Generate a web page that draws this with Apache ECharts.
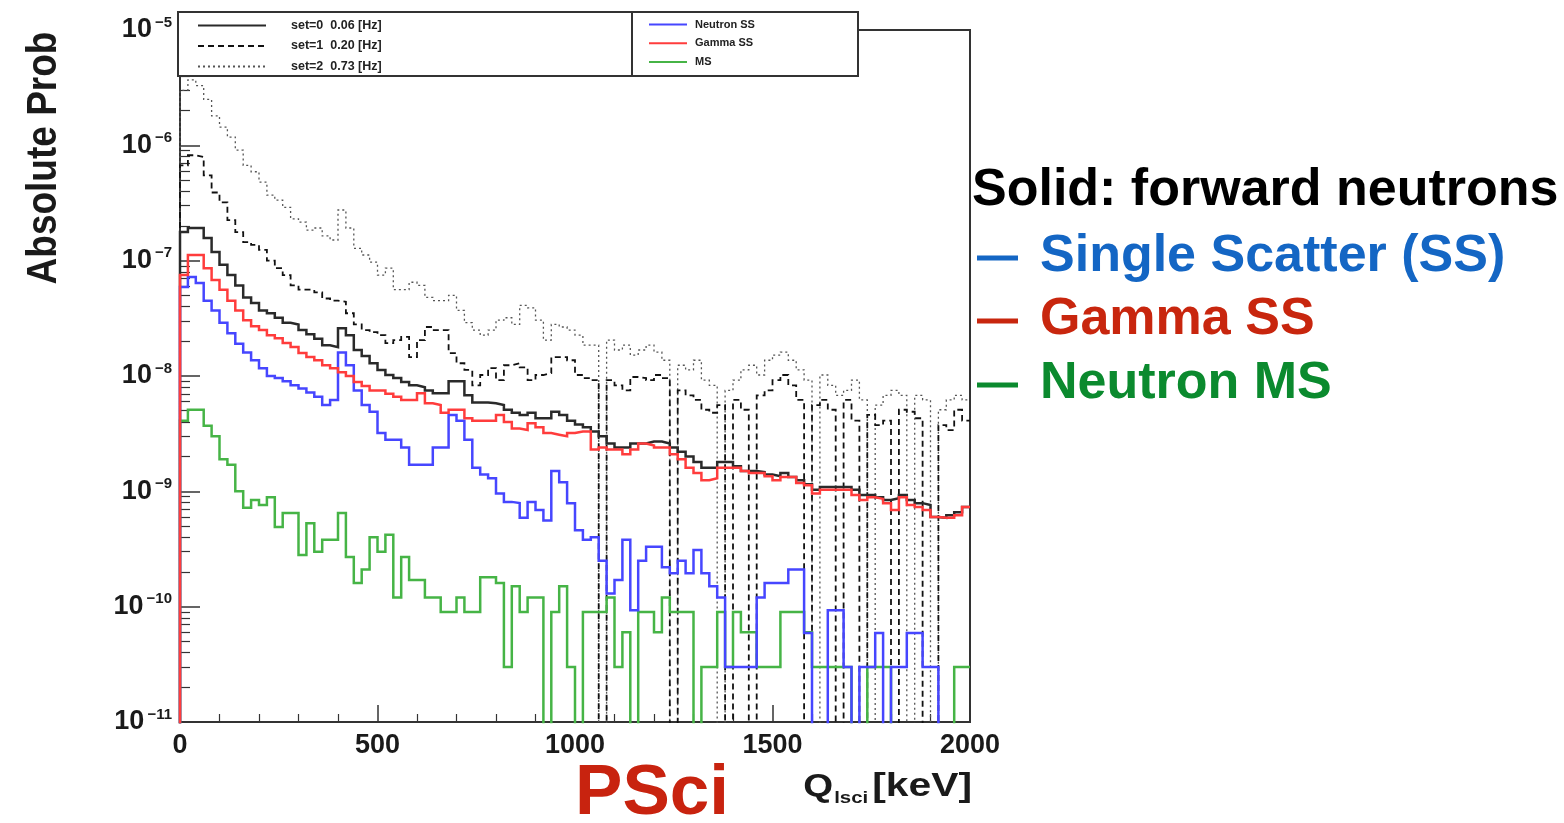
<!DOCTYPE html>
<html><head><meta charset="utf-8">
<script src="https://cdn.jsdelivr.net/npm/echarts@6/dist/echarts.min.js"></script>
<style>html,body{margin:0;padding:0;background:#fff}#c{width:1564px;height:823px}</style>
</head><body><div id="c"></div>
<script>
// ---- data (20 keV bins, 0..2000 keV) ----
const BIN_WIDTH = 20;
const X_MIN = 0, X_MAX = 2000;
const X_TICK_STEP = 500;
const Y_MIN = 1e-11, Y_MAX = 1e-5;
const Y_DECADES = [-11, -10, -9, -8, -7, -6];
const MINOR_MULTIPLIERS = [2, 3, 4, 5, 6, 7, 8, 9];
const SET_LABELS = ['set=0  0.06 [Hz]', 'set=1  0.20 [Hz]', 'set=2  0.73 [Hz]'];
const TYPE_LABELS = ['Neutron SS', 'Gamma SS', 'MS'];

const set0Total = [1.77e-7,1.92e-7,1.92e-7,1.57e-7,1.19e-7,9.2e-8,7.5e-8,6.1e-8,4.8e-8,4.3e-8,
 3.7e-8,3.5e-8,3.2e-8,2.9e-8,2.8e-8,2.5e-8,2.3e-8,2.1e-8,1.85e-8,1.78e-8,
 2.6e-8,2.26e-8,1.68e-8,1.49e-8,1.29e-8,1.13e-8,1.02e-8,9.6e-9,8.85e-9,8.3e-9,
 8.0e-9,7.5e-9,7.1e-9,7.1e-9,9.0e-9,9.0e-9,6.8e-9,5.9e-9,5.9e-9,5.8e-9,
 5.6e-9,5.1e-9,4.8e-9,4.6e-9,4.8e-9,4.3e-9,4.3e-9,4.9e-9,4.6e-9,4.1e-9,
 3.8e-9,3.6e-9,3.3e-9,3.0e-9,2.6e-9,2.4e-9,2.4e-9,2.6e-9,2.6e-9,2.7e-9,
 2.7e-9,2.6e-9,2.4e-9,2.2e-9,2.0e-9,1.8e-9,1.6e-9,1.6e-9,1.8e-9,1.8e-9,
 1.65e-9,1.5e-9,1.5e-9,1.47e-9,1.4e-9,1.35e-9,1.44e-9,1.33e-9,1.25e-9,1.15e-9,
 1.03e-9,1.09e-9,1.09e-9,1.09e-9,1.09e-9,1.03e-9,9.3e-10,9.3e-10,8.9e-10,8.4e-10,
 8.7e-10,9.3e-10,8.4e-10,7.9e-10,7.6e-10,6.0e-10,5.9e-10,6.2e-10,6.6e-10,7.3e-10];

const set1Total = [6.7e-7,8.2e-7,7.9e-7,5.5e-7,3.9e-7,3.2e-7,2.25e-7,1.77e-7,1.45e-7,1.37e-7,
 1.24e-7,1.0e-7,8.6e-8,7.5e-8,6.1e-8,5.6e-8,5.6e-8,5.3e-8,4.7e-8,4.5e-8,
 4.4e-8,3.5e-8,2.8e-8,2.5e-8,2.4e-8,2.26e-8,1.93e-8,2.05e-8,2.18e-8,1.46e-8,
 2.05e-8,2.66e-8,2.5e-8,2.5e-8,1.58e-8,1.29e-8,1.13e-8,8.3e-9,1.02e-8,1.17e-8,
 9.2e-9,1.24e-8,1.29e-8,1.19e-8,9.2e-9,1.02e-8,1.06e-8,1.46e-8,1.46e-8,1.37e-8,
 1.02e-8,9.6e-9,9.2e-9,0,9.2e-9,8.3e-9,7.5e-9,9.8e-9,9.6e-9,9.2e-9,
 1.02e-8,9.6e-9,0,7.5e-9,6.8e-9,6.2e-9,5.1e-9,4.8e-9,5.6e-9,0,
 6.2e-9,5.1e-9,0,6.8e-9,7.5e-9,9.2e-9,1.02e-8,8.3e-9,6.2e-9,0,
 5.6e-9,6.2e-9,5.1e-9,0,6.2e-9,4.1e-9,0,4.6e-9,3.75e-9,4.1e-9,
 0,5.1e-9,4.9e-9,4.3e-9,0,0,3.75e-9,3.4e-9,5.1e-9,4.1e-9];

const set2Total = [3.0e-6,3.7e-6,3.3e-6,2.5e-6,1.8e-6,1.44e-6,1.18e-6,9.1e-7,6.7e-7,5.9e-7,
 4.8e-7,3.7e-7,3.35e-7,2.9e-7,2.3e-7,2.16e-7,1.84e-7,1.92e-7,1.64e-7,1.51e-7,
 2.75e-7,1.92e-7,1.28e-7,1.12e-7,9.7e-8,7.5e-8,8.6e-8,5.6e-8,5.6e-8,6.5e-8,
 6.1e-8,4.8e-8,4.5e-8,4.5e-8,5.0e-8,3.7e-8,2.9e-8,2.5e-8,2.26e-8,2.5e-8,
 3.05e-8,3.2e-8,2.8e-8,4.1e-8,3.9e-8,3.05e-8,2.05e-8,2.8e-8,2.66e-8,2.5e-8,
 2.26e-8,1.85e-8,1.85e-8,0,2.05e-8,1.68e-8,1.85e-8,1.52e-8,1.68e-8,1.85e-8,
 1.61e-8,1.37e-8,0,1.24e-8,1.13e-8,1.37e-8,9.2e-9,8.3e-9,0,7.5e-9,
 9.2e-9,1.13e-8,1.24e-8,1.02e-8,1.37e-8,1.52e-8,1.61e-8,1.37e-8,1.13e-8,9.2e-9,
 0,1.02e-8,8.3e-9,6.8e-9,7.5e-9,9.2e-9,6.2e-9,0,5.6e-9,6.8e-9,
 7.5e-9,6.8e-9,0,6.8e-9,6.2e-9,0,5.1e-9,6.2e-9,6.8e-9,6.2e-9];

const neutronSS = [5.9e-8,7.2e-8,6.4e-8,4.5e-8,3.7e-8,2.9e-8,2.35e-8,1.9e-8,1.6e-8,1.37e-8,
 1.17e-8,1.0e-8,9.6e-9,9.0e-9,8.3e-9,7.8e-9,7.2e-9,6.6e-9,5.6e-9,6.2e-9,
 1.6e-8,1.24e-8,7.5e-9,5.6e-9,4.9e-9,3.2e-9,2.8e-9,2.8e-9,2.4e-9,1.7e-9,
 1.7e-9,1.7e-9,2.4e-9,2.4e-9,4.6e-9,4.1e-9,2.8e-9,1.6e-9,1.4e-9,1.3e-9,
 9.6e-10,8.1e-10,7.9e-10,5.9e-10,8.1e-10,6.9e-10,5.6e-10,1.5e-9,1.2e-9,7.9e-10,
 4.6e-10,3.8e-10,4.0e-10,2.5e-10,1.3e-10,1.7e-10,3.8e-10,9.3e-11,2.5e-10,3.3e-10,
 3.3e-10,2.2e-10,1.95e-10,2.5e-10,1.95e-10,3.1e-10,1.95e-10,1.5e-10,1.2e-10,3.0e-11,
 3.0e-11,3.0e-11,3.0e-11,1.2e-10,1.6e-10,1.6e-10,1.6e-10,2.1e-10,2.1e-10,5.9e-11,
 0,0,9.3e-11,9.3e-11,3.0e-11,0,3.0e-11,3.0e-11,5.9e-11,0,
 3.0e-11,3.0e-11,5.9e-11,5.9e-11,3.0e-11,3.0e-11,0,0,0,0];

const gammaSS = [7.5e-8,1.12e-7,1.12e-7,8.6e-8,6.8e-8,5.6e-8,4.5e-8,3.7e-8,3.05e-8,2.7e-8,
 2.5e-8,2.26e-8,2.13e-8,1.93e-8,1.78e-8,1.58e-8,1.46e-8,1.37e-8,1.24e-8,1.17e-8,
 1.08e-8,1.0e-8,8.85e-9,8.2e-9,7.5e-9,7.5e-9,7.0e-9,6.6e-9,6.2e-9,6.2e-9,
 7.1e-9,5.8e-9,5.6e-9,4.8e-9,5.1e-9,5.1e-9,4.3e-9,4.1e-9,4.1e-9,4.1e-9,
 4.6e-9,4.0e-9,3.5e-9,3.4e-9,3.9e-9,3.6e-9,3.2e-9,3.1e-9,3.0e-9,3.2e-9,
 3.3e-9,3.3e-9,2.3e-9,2.4e-9,2.3e-9,2.3e-9,2.1e-9,2.3e-9,2.6e-9,2.5e-9,
 2.4e-9,2.4e-9,2.1e-9,1.9e-9,1.6e-9,1.44e-9,1.25e-9,1.3e-9,1.6e-9,1.6e-9,
 1.6e-9,1.5e-9,1.44e-9,1.44e-9,1.35e-9,1.25e-9,1.33e-9,1.33e-9,1.18e-9,1.13e-9,
 9.6e-10,1.03e-9,1.03e-9,1.03e-9,1.03e-9,9.3e-10,8.4e-10,8.9e-10,8.6e-10,7.9e-10,
 6.9e-10,8.9e-10,7.6e-10,7.3e-10,6.9e-10,6.0e-10,5.9e-10,5.9e-10,6.2e-10,7.3e-10];

const neutronMS = [4.1e-9,5.1e-9,5.1e-9,3.7e-9,3.0e-9,1.9e-9,1.7e-9,1.0e-9,7.2e-10,8.4e-10,
 7.6e-10,8.9e-10,4.9e-10,6.5e-10,6.5e-10,2.8e-10,5.3e-10,3.0e-10,3.8e-10,3.8e-10,
 6.5e-10,2.7e-10,1.6e-10,2.1e-10,4.0e-10,3.0e-10,4.2e-10,1.2e-10,2.7e-10,1.7e-10,
 1.7e-10,1.2e-10,1.2e-10,9e-11,9e-11,1.2e-10,9e-11,9e-11,1.8e-10,1.8e-10,
 1.6e-10,3e-11,1.5e-10,9e-11,1.2e-10,1.2e-10,0,9e-11,1.5e-10,3e-11,
 0,9e-11,9e-11,9e-11,1.2e-10,3e-11,6e-11,0,9e-11,9e-11,
 6e-11,1.2e-10,9e-11,9e-11,9e-11,0,3e-11,3e-11,9e-11,3e-11,
 9e-11,6e-11,6e-11,3e-11,3e-11,3e-11,9e-11,9e-11,9e-11,6e-11,
 3e-11,3e-11,3e-11,3e-11,3e-11,0,0,3e-11,3e-11,3e-11,
 0,0,0,0,0,0,0,0,3e-11,3e-11];

// ---- histogram outline builder (empty bins fall below the axis and are clipped) ----
const EMPTY = 1e-14;
function histPoints(vals) {
  const pts = [[X_MIN, EMPTY]];
  vals.forEach((v, i) => pts.push([X_MIN + i * BIN_WIDTH, v > 0 ? v : EMPTY]));
  const last = vals[vals.length - 1];
  pts.push([X_MIN + vals.length * BIN_WIDTH, last > 0 ? last : EMPTY]);
  return pts;
}
function hist(name, vals, color, width, type, z) {
  return {
    name, type: 'line', step: 'end', data: histPoints(vals), symbol: 'none', showSymbol: false,
    clip: true, z: z, silent: true, yAxisIndex: 0,
    lineStyle: { color, width, type, cap: 'butt', join: 'miter' }, itemStyle: { color }
  };
}
const minorYTicks = [];
Y_DECADES.forEach(e => MINOR_MULTIPLIERS.forEach(m => minorYTicks.push(m * Math.pow(10, e))));

const FONT = '"Liberation Sans", Arial, Helvetica, sans-serif';
const chart = echarts.init(document.getElementById('c'), null, { renderer: 'canvas' });

chart.setOption({
  animation: false,
  backgroundColor: '#fff',
  grid: { left: 180, right: 594, top: 30, bottom: 101, show: true, borderColor: '#333', borderWidth: 2, backgroundColor: 'transparent' },
  xAxis: {
    type: 'value', min: X_MIN, max: X_MAX, interval: X_TICK_STEP,
    axisLine: { show: false },
    axisTick: { show: true, inside: true, length: 17, lineStyle: { color: '#333', width: 1.5 } },
    minorTick: { show: true, splitNumber: 5, length: 8, lineStyle: { color: '#333', width: 1.2 } },
    splitLine: { show: false },
    axisLabel: { margin: 10, formatter: v => String(v), fontFamily: FONT, fontWeight: 'bold', fontSize: 27, color: '#1a1a1a' }
  },
  yAxis: [{
    type: 'log', logBase: 10, min: Y_MIN, max: Y_MAX, splitNumber: 6,
    axisLine: { show: false },
    axisTick: { show: true, inside: true, length: 20, lineStyle: { color: '#333', width: 1.5 } },
    minorTick: { show: false },
    splitLine: { show: false },
    axisLabel: {
      margin: 8,
      formatter: v => { const e = Math.round(Math.log10(v)); return '{b|10}{s|' + (e < 0 ? '\u2212' : '') + Math.abs(e) + '}'; },
      rich: {
        b: { fontFamily: FONT, fontWeight: 'bold', fontSize: 27, color: '#1a1a1a', lineHeight: 30 },
        s: { fontFamily: FONT, fontWeight: 'bold', fontSize: 15, color: '#1a1a1a', verticalAlign: 'top', padding: [0, 0, 0, 3] }
      }
    }
  }, {
    type: 'log', logBase: 10, min: Y_MIN, max: Y_MAX, position: 'left', offset: 0,
    axisLine: { show: false },
    axisTick: { show: true, inside: true, length: 10, customValues: minorYTicks, lineStyle: { color: '#333', width: 1.2 } },
    axisLabel: { show: false },
    splitLine: { show: false }
  }],
  legend: [
    {
      data: SET_LABELS, orient: 'vertical', left: 192, top: 14, itemWidth: 68, itemHeight: 14, itemGap: 7.5,
      selectedMode: false, z: 60, itemStyle: { opacity: 0 },
      textStyle: { fontFamily: FONT, fontWeight: 'bold', fontSize: 12.5, color: '#222', padding: [0, 0, 0, 20] }
    },
    {
      data: TYPE_LABELS, orient: 'vertical', left: 643, top: 14, itemWidth: 38, itemHeight: 14, itemGap: 7.5,
      selectedMode: false, z: 60, itemStyle: { opacity: 0 },
      textStyle: { fontFamily: FONT, fontWeight: 'bold', fontSize: 11, color: '#222', padding: [0, 0, 0, 3] }
    }
  ],
  series: [
    hist(SET_LABELS[2], set2Total, '#555', 1.3, [2, 3], 2),
    hist(SET_LABELS[1], set1Total, '#111', 1.8, [6, 4], 3),
    hist(SET_LABELS[0], set0Total, '#2a2a2a', 2.5, 'solid', 4),
    hist(TYPE_LABELS[2], neutronMS, '#46b446', 2.5, 'solid', 5),
    hist(TYPE_LABELS[0], neutronSS, '#4646ff', 2.5, 'solid', 6),
    hist(TYPE_LABELS[1], gammaSS, '#ff3c3c', 2.5, 'solid', 7)
  ],
  graphic: [
    { type: 'rect', z: 50, shape: { x: 178, y: 12, width: 454, height: 64 }, style: { fill: '#fff', stroke: '#333', lineWidth: 2 } },
    { type: 'rect', z: 50, shape: { x: 632, y: 12, width: 226, height: 64 }, style: { fill: '#fff', stroke: '#333', lineWidth: 2 } },
    { type: 'text', z: 50, x: 44, y: 158, rotation: Math.PI / 2, scaleY: 1.15,
      style: { text: 'Absolute Prob', fontFamily: FONT, fontWeight: 'bold', fontSize: 37, fill: '#1a1a1a', align: 'center', verticalAlign: 'middle' } },
    { type: 'text', z: 50, x: 652, y: 794,
      style: { text: 'PSci', fontFamily: FONT, fontWeight: 'bold', fontSize: 71, fill: '#c8230f', align: 'center', verticalAlign: 'middle' } },
    { type: 'text', z: 50, x: 972, y: 787, scaleX: 1.2,
      style: { text: '{q|Q}{s|lsci} {k|[keV]}', align: 'right', verticalAlign: 'middle',
        rich: {
          q: { fontFamily: FONT, fontWeight: 'bold', fontSize: 32, fill: '#1a1a1a' },
          s: { fontFamily: FONT, fontWeight: 'bold', fontSize: 17, fill: '#1a1a1a', verticalAlign: 'bottom', padding: [22, 0, 0, 1] },
          k: { fontFamily: FONT, fontWeight: 'bold', fontSize: 34, fill: '#1a1a1a' }
        } } },
    { type: 'text', z: 50, x: 972, y: 191,
      style: { text: 'Solid: forward neutrons', fontFamily: FONT, fontWeight: 'bold', fontSize: 52, fill: '#000', align: 'left', verticalAlign: 'middle' } },
    { type: 'line', z: 50, shape: { x1: 977, y1: 258, x2: 1018, y2: 258 }, style: { stroke: '#1466c4', lineWidth: 5 } },
    { type: 'text', z: 50, x: 1040, y: 257,
      style: { text: 'Single Scatter (SS)', fontFamily: FONT, fontWeight: 'bold', fontSize: 52, fill: '#1466c4', align: 'left', verticalAlign: 'middle' } },
    { type: 'line', z: 50, shape: { x1: 977, y1: 321, x2: 1018, y2: 321 }, style: { stroke: '#c8260e', lineWidth: 5 } },
    { type: 'text', z: 50, x: 1040, y: 320,
      style: { text: 'Gamma SS', fontFamily: FONT, fontWeight: 'bold', fontSize: 52, fill: '#c8260e', align: 'left', verticalAlign: 'middle' } },
    { type: 'line', z: 50, shape: { x1: 977, y1: 385, x2: 1018, y2: 385 }, style: { stroke: '#0b8a2e', lineWidth: 5 } },
    { type: 'text', z: 50, x: 1040, y: 384,
      style: { text: 'Neutron MS', fontFamily: FONT, fontWeight: 'bold', fontSize: 52, fill: '#0b8a2e', align: 'left', verticalAlign: 'middle' } }
  ]
});
</script>
</body></html>
